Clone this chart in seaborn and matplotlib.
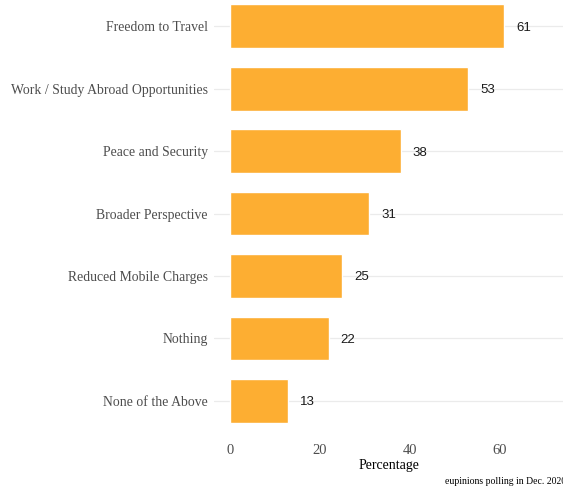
import matplotlib
matplotlib.use("Agg")
import matplotlib.pyplot as plt
import seaborn as sns
import pandas as pd

# data
benefits = [
    "Freedom to Travel",
    "Work / Study Abroad Opportunities",
    "Peace and Security",
    "Broader Perspective",
    "Reduced Mobile Charges",
    "Nothing",
    "None of the Above",
]
percentages = [61, 53, 38, 31, 25, 22, 13]
x_ticks = [0, 20, 40, 60]

df = pd.DataFrame({"benefit": benefits, "pct": percentages})

sns.set_style("white")
plt.rcParams["font.family"] = ["Liberation Serif", "DejaVu Serif"]

fig = plt.figure(figsize=(5.63, 4.88), dpi=100)
ax = fig.add_axes([0.380, 0.107, 0.620, 0.893])

sns.barplot(data=df, x="pct", y="benefit", color="#FDAE32", saturation=1,
            width=0.7, ax=ax, zorder=2)

# value labels to the right of each bar
for i, v in enumerate(percentages):
    ax.text(v + 2.6, i, str(v), va="center_baseline", ha="left", fontsize=9.5,
            family=["Liberation Sans", "DejaVu Sans"], color="#1a1a1a", zorder=3)

ax.set_xlim(-3.5, 74)
ax.set_ylim(6.56, -0.42)
ax.set_xticks(x_ticks)
ax.grid(axis="y", color="#EBEBEB", linewidth=0.9, zorder=0)
ax.grid(axis="x", visible=False)
for s in ax.spines.values():
    s.set_visible(False)
ax.tick_params(axis="both", length=0, labelcolor="#4D4D4D")
ax.tick_params(axis="y", pad=4.5, labelsize=9.9)
ax.tick_params(axis="x", pad=6, labelsize=10.5)
ax.set_ylabel("")
ax.set_xlabel("Percentage", fontsize=10, color="black", labelpad=1)

fig.text(1.006, 0.004, "eupinions polling in Dec. 2020", ha="right", va="bottom",
         fontsize=7, color="black")

plt.savefig("out.png", dpi=100)
